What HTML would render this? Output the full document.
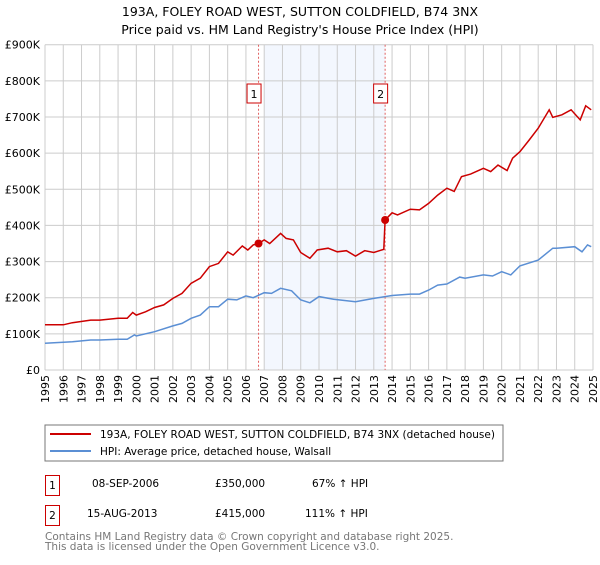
<!DOCTYPE html>
<html><head><meta charset="utf-8"><style>
body{margin:0;background:#fff;font-family:"Liberation Sans","DejaVu Sans",sans-serif}
svg text{font-family:"DejaVu Sans","Liberation Sans",sans-serif}
</style></head><body>
<svg id="c" width="600" height="560" viewBox="0 0 600 560" xmlns="http://www.w3.org/2000/svg">
<text x="300" y="16" text-anchor="middle" font-size="12.5">193A, FOLEY ROAD WEST, SUTTON COLDFIELD, B74 3NX</text>
<text x="300" y="34" text-anchor="middle" font-size="12.5">Price paid vs. HM Land Registry's House Price Index (HPI)</text>
<g id="plot"></g>
<rect x="45" y="425" width="458" height="36" fill="#fff" stroke="#777"/>
<line x1="50" y1="434" x2="91" y2="434" stroke="#cc0000" stroke-width="2"/>
<text x="100" y="438" font-size="10.5">193A, FOLEY ROAD WEST, SUTTON COLDFIELD, B74 3NX (detached house)</text>
<line x1="50" y1="451" x2="91" y2="451" stroke="#5b8fd4" stroke-width="2"/>
<text x="100" y="455" font-size="10.5">HPI: Average price, detached house, Walsall</text>
<rect x="45.5" y="475.5" width="14" height="20" fill="none" stroke="#cc0000"/>
<text x="52.5" y="489" text-anchor="middle" font-size="10.5">1</text>
<text x="92" y="487" font-size="10.5">08-SEP-2006</text>
<text x="215" y="487" font-size="10.5">£350,000</text>
<text x="312" y="487" font-size="10.5">67% ↑ HPI</text>
<rect x="45.5" y="505.5" width="14" height="20" fill="none" stroke="#cc0000"/>
<text x="52.5" y="519" text-anchor="middle" font-size="10.5">2</text>
<text x="87" y="517" font-size="10.5">15-AUG-2013</text>
<text x="215" y="517" font-size="10.5">£415,000</text>
<text x="305" y="517" font-size="10.5">111% ↑ HPI</text>
<text x="45" y="540" font-size="10.5" fill="#777">Contains HM Land Registry data © Crown copyright and database right 2025.</text>
<text x="45" y="550" font-size="10.5" fill="#777">This data is licensed under the Open Government Licence v3.0.</text>
</svg>
<script>
const yearTicks=[1995,1996,1997,1998,1999,2000,2001,2002,2003,2004,2005,2006,2007,2008,2009,2010,2011,2012,2013,2014,2015,2016,2017,2018,2019,2020,2021,2022,2023,2024,2025];
const valueTicks=[0,100000,200000,300000,400000,500000,600000,700000,800000,900000];
const valueTickLabels=["£0","£100K","£200K","£300K","£400K","£500K","£600K","£700K","£800K","£900K"];
const propYears=[1995,1996,1996.5,1997.5,1998,1999,1999.5,1999.8,2000,2000.5,2001,2001.5,2002,2002.5,2003,2003.5,2004,2004.5,2005,2005.3,2005.8,2006.1,2006.4,2006.69,2007,2007.3,2007.9,2008.2,2008.6,2009,2009.5,2009.9,2010.5,2011,2011.5,2012,2012.5,2013,2013.55,2013.62,2014,2014.3,2015,2015.5,2016,2016.5,2017,2017.4,2017.8,2018.3,2019,2019.4,2019.8,2020.3,2020.6,2021,2021.5,2022,2022.6,2022.8,2023.3,2023.8,2024.3,2024.6,2024.9];
const propValues=[125,125,131,138,138,143,143,159,152,161,173,180,198,212,240,254,286,295,327,318,343,332,346,350,360,350,378,364,360,325,309,332,337,327,330,315,330,325,334,415,435,429,445,443,461,484,503,494,535,542,558,549,567,552,586,604,636,669,720,699,706,720,692,731,720];
const hpiYears=[1995,1996,1996.5,1997.5,1998,1999,1999.5,1999.9,2000,2001,2002,2002.5,2003,2003.5,2004,2004.5,2005,2005.5,2006,2006.4,2007,2007.4,2007.9,2008.5,2009,2009.5,2010,2010.8,2012,2013,2014,2015,2015.5,2016,2016.5,2017,2017.7,2018,2019,2019.5,2020,2020.5,2021,2022,2022.8,2023,2024,2024.4,2024.7,2024.9];
const hpiValues=[74,77,78,83,83,85,85,97,94,106,122,129,143,152,175,175,196,194,205,200,214,212,226,219,194,186,203,196,189,198,206,210,210,221,235,238,257,254,263,260,272,263,288,304,337,337,341,327,346,341];
const saleYears=[2006.69,2013.62];
const saleValues=[350000,415000];
const saleLabels=["1","2"];
const x0=45,x1=593,y0=370,y1=44.7;
const X=y=>x0+(y-1995)/30*(x1-x0);
const Y=v=>y0-v/900000*(y0-y1);
const NS="http://www.w3.org/2000/svg";
const g=document.getElementById('plot');
function mk(t,a){const e=document.createElementNS(NS,t);for(const k in a)e.setAttribute(k,a[k]);g.appendChild(e);return e;}
let e=mk('rect',{x:X(2007),y:y1,width:X(saleYears[1])-X(2007),height:y0-y1,fill:'#eef3fd',opacity:0.7});


yearTicks.forEach(t=>{let l=mk('line',{x1:X(t),x2:X(t),y1:y1,y2:y0,stroke:'#ccc','stroke-width':1});


let tx=mk('text',{x:0,y:0,'font-size':11,'text-anchor':'end',transform:`translate(${X(t)+4},375) rotate(-90)`});tx.textContent=t;

});
valueTicks.forEach((v,i)=>{let l=mk('line',{x1:x0,x2:x1,y1:Y(v),y2:Y(v),stroke:'#ccc','stroke-width':1});


let tx=mk('text',{x:40,y:Y(v)+4,'font-size':11,'text-anchor':'end'});tx.textContent=valueTickLabels[i];

});
saleYears.forEach((s,i)=>{let l=mk('line',{x1:X(s),x2:X(s),y1:y1,y2:y0,stroke:'#e06060','stroke-dasharray':'2,2','stroke-width':1});

});
function path(xs,vs,c,n){let d=xs.map((x,i)=>(i?'L':'M')+X(x).toFixed(1)+','+Y(vs[i]*1000).toFixed(1)).join('');
let p=mk('path',{d:d,fill:'none',stroke:c,'stroke-width':1.5});

}
path(hpiYears,hpiValues,'#5b8fd4','hpi-line');
path(propYears,propValues,'#cc0000','property-price-line');
saleYears.forEach((s,i)=>{let c=mk('circle',{cx:X(s),cy:Y(saleValues[i]),r:4,fill:'#cc0000'});


let r=mk('rect',{x:X(s)-11.5,y:84,width:14,height:19,fill:'#fff',stroke:'#cc0000'});


let t=mk('text',{x:X(s)-4.5,y:98,'font-size':11,'text-anchor':'middle'});t.textContent=saleLabels[i];

});
</script>
</body></html>
